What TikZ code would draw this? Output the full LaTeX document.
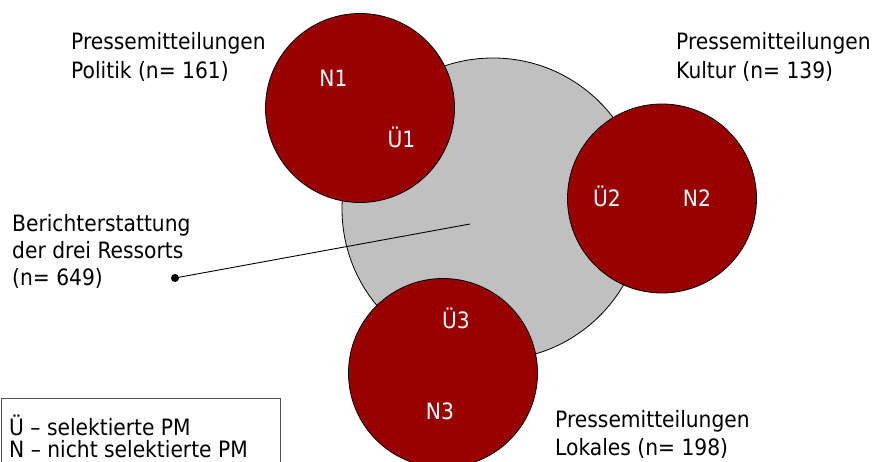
\documentclass[tikz,border=0pt]{standalone}
\usepackage{fontspec}
\setmainfont{DejaVu Sans}[FakeStretch=0.9]
\definecolor{pmred}{HTML}{990000}
\definecolor{pmgray}{HTML}{C0C0C0}
\definecolor{boxgray}{HTML}{505050}
\tikzset{
  lbl/.style={anchor=base west, inner sep=0pt, font=\fontsize{22.5}{26}\selectfont, text=black},
  inlbl/.style={anchor=base, inner sep=0pt, font=\fontsize{22.5}{26}\selectfont, text=white},
  pm/.style={circle, draw=black, line width=0.8pt, fill=pmred, minimum size=189pt, inner sep=0pt},
  report/.style={circle, draw=black, line width=0.8pt, fill=pmgray, minimum size=302pt, inner sep=0pt},
  leader/.style={draw=black, line width=0.9pt},
  legbox/.style={draw=boxgray, line width=1pt}
}
\begin{document}
\begin{tikzpicture}[x=1pt,y=-1pt]
\useasboundingbox (0,0) rectangle (880,462);
% main gray circle
\node[report] (rep) at (493,209) {};
% leader line
\node[circle, fill=black, inner sep=0pt, minimum size=8pt] (dot) at (175,278) {};
\coordinate (lend) at (470,224);
\draw[leader] (dot.center) -- (lend);
% red circles
\node[pm] (pol) at (360,108) {};
\node[pm] (kul) at (662,198.5) {};
\node[pm] (lok) at (443,373) {};
% inner labels
\node[inlbl] (n1) at (333.5,87) {N1};
\node[inlbl] (u1) at (401.5,148) {Ü1};
\node[inlbl] (u2) at (607,207) {Ü2};
\node[inlbl] (n2) at (697,207) {N2};
\node[inlbl] (u3) at (456,328) {Ü3};
\node[inlbl] (n3) at (440,419) {N3};
% outer labels
\node[lbl] (polA) at (71,50) {Pressemitteilungen};
\node[lbl] (polB) at (71,79) {Politik (n= 161)};
\node[lbl] (kulA) at (676,50) {Pressemitteilungen};
\node[lbl] (kulB) at (676,79) {Kultur (n= 139)};
\node[lbl] (lokA) at (555,427) {Pressemitteilungen};
\node[lbl] (lokB) at (555,455) {Lokales (n= 198)};
\node[lbl] (repA) at (12,231.5) {Berichterstattung};
\node[lbl] (repB) at (12,258.5) {der drei Ressorts};
\node[lbl] (repC) at (12,285.5) {(n= 649)};
% legend
\draw[legbox] (1,470) -- (1,398.5) -- (280,398.5) -- (280,470);
\node[lbl] (legA) at (9,435) {Ü – selektierte PM};
\node[lbl] (legB) at (9,457) {N – nicht selektierte PM};
\end{tikzpicture}
\end{document}
